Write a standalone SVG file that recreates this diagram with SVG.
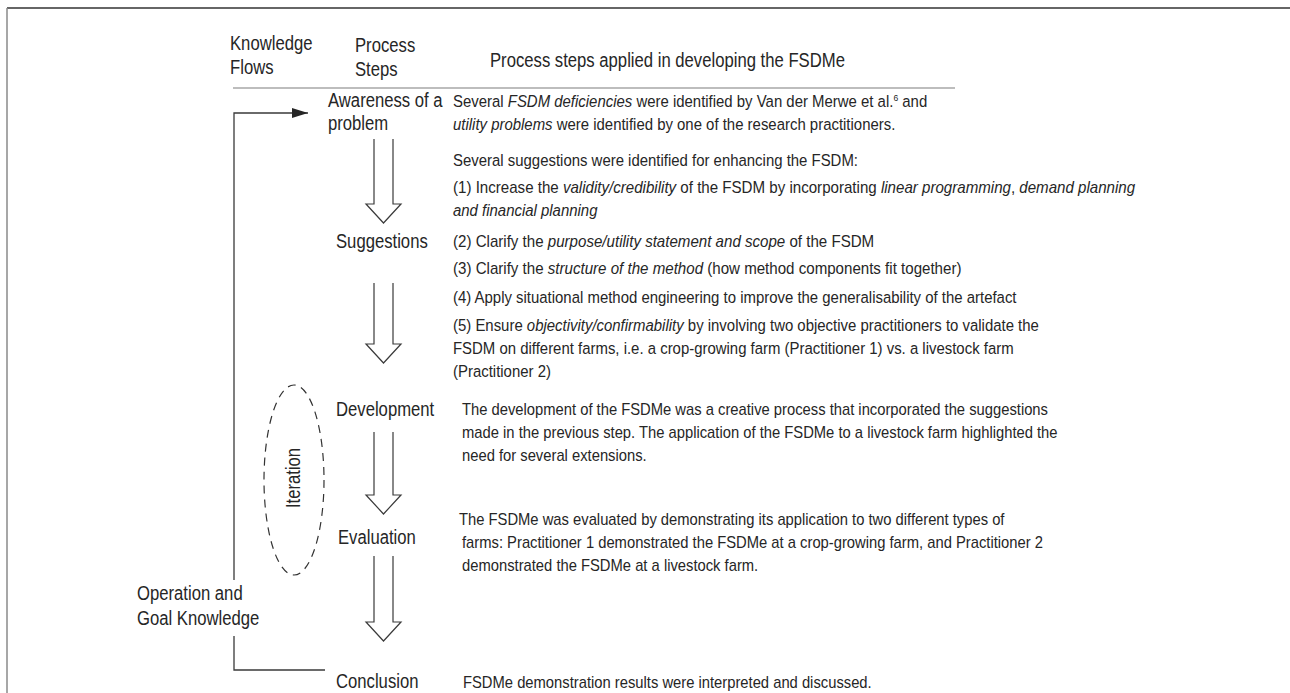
<svg xmlns="http://www.w3.org/2000/svg" width="1290" height="693" viewBox="0 0 1290 693">
<defs>
<style>
text{font-family:"Liberation Sans",Arial,sans-serif;fill:#262626}
.h{font-size:19.4px}
.b{font-size:16.6px}
.i{font-style:italic}
.sup{font-size:9.5px}
.blk{fill:#fff;stroke:#3a3a3a;stroke-width:1.2}
.ln{fill:none;stroke:#3a3a3a;stroke-width:1.3}
</style>
<marker id="ah" viewBox="0 0 16 10" refX="16" refY="5" markerWidth="16" markerHeight="10" markerUnits="userSpaceOnUse" orient="auto">
<path d="M0,0 L16,5 L0,10 Z" fill="#262626"/>
</marker>
</defs>
<rect width="1290" height="693" fill="#fff"/>
<g id="frame">
<line x1="7" y1="8" x2="1290" y2="8" stroke="#333" stroke-width="1.5"/>
<line x1="7" y1="8" x2="7" y2="693" stroke="#8a8a8a" stroke-width="1.5"/>
<line x1="233" y1="88" x2="955" y2="88" stroke="#bdbdbd" stroke-width="2"/>
</g>
<g id="header">
<text class="h" transform="translate(230,50) scale(0.86,1)">Knowledge</text>
<text class="h" transform="translate(230,74) scale(0.86,1)">Flows</text>
<text class="h" transform="translate(355,52) scale(0.86,1)">Process</text>
<text class="h" transform="translate(355,76) scale(0.86,1)">Steps</text>
<text class="h" transform="translate(490,67) scale(0.86,1)">Process steps applied in developing the FSDMe</text>
</g>
<g id="connectors">
<path class="ln" d="M234,580 V113 H308" marker-end="url(#ah)"/>
<path class="ln" d="M234,636 V670 H325"/>
<path class="blk" d="M374,139 V204 H366 L383.5,223 L401,204 H393 V139"/>
<path class="blk" d="M374,283 V344 H366 L383.5,363 L401,344 H393 V283"/>
<path class="blk" d="M374,432 V495 H366 L383.5,514 L401,495 H393 V432"/>
<path class="blk" d="M374,556 V622 H366 L383.5,641 L401,622 H393 V556"/>
</g>
<g id="iteration">
<ellipse cx="294" cy="480" rx="30" ry="95" fill="none" stroke="#333" stroke-width="1.2" stroke-dasharray="8,6"/>
<text class="h" text-anchor="middle" transform="translate(300,478) rotate(-90) scale(0.86,1)">Iteration</text>
</g>
<g id="operation-goal-knowledge">
<text class="h" transform="translate(137,600) scale(0.86,1)">Operation and</text>
<text class="h" transform="translate(137,625) scale(0.86,1)">Goal Knowledge</text>
</g>
<g id="step-awareness">
<text class="h" transform="translate(328,107) scale(0.86,1)">Awareness of a</text>
<text class="h" transform="translate(328,130) scale(0.86,1)">problem</text>
<text class="b" transform="translate(453,107) scale(0.9,1)">Several <tspan class="i">FSDM deficiencies</tspan> were identified by Van der Merwe et al.<tspan class="sup" dy="-6">6</tspan><tspan dy="6"> and</tspan></text>
<text class="b" transform="translate(453,130) scale(0.9,1)"><tspan class="i">utility problems</tspan> were identified by one of the research practitioners.</text>
</g>
<g id="step-suggestions">
<text class="h" transform="translate(336,248) scale(0.86,1)">Suggestions</text>
<text class="b" transform="translate(453,166) scale(0.9,1)">Several suggestions were identified for enhancing the FSDM:</text>
<text class="b" transform="translate(453,193) scale(0.91,1)">(1) Increase the <tspan class="i">validity/credibility</tspan> of the FSDM by incorporating <tspan class="i">linear programming</tspan>, <tspan class="i">demand planning</tspan></text>
<text class="b i" transform="translate(453,216) scale(0.9,1)">and financial planning</text>
<text class="b" transform="translate(453,247) scale(0.91,1)">(2) Clarify the <tspan class="i">purpose/utility statement and scope</tspan> of the FSDM</text>
<text class="b" transform="translate(453,274) scale(0.91,1)">(3) Clarify the <tspan class="i">structure of the method</tspan> (how method components fit together)</text>
<text class="b" transform="translate(453,303) scale(0.9,1)">(4) Apply situational method engineering to improve the generalisability of the artefact</text>
<text class="b" transform="translate(453,331) scale(0.9,1)">(5) Ensure <tspan class="i">objectivity/confirmability</tspan> by involving two objective practitioners to validate the</text>
<text class="b" transform="translate(453,354) scale(0.9,1)">FSDM on different farms, i.e. a crop-growing farm (Practitioner 1) vs. a livestock farm</text>
<text class="b" transform="translate(453,377) scale(0.9,1)">(Practitioner 2)</text>
</g>
<g id="step-development">
<text class="h" transform="translate(336,416) scale(0.86,1)">Development</text>
<text class="b" transform="translate(462,415) scale(0.89,1)">The development of the FSDMe was a creative process that incorporated the suggestions</text>
<text class="b" transform="translate(462,438) scale(0.89,1)">made in the previous step. The application of the FSDMe to a livestock farm highlighted the</text>
<text class="b" transform="translate(462,461) scale(0.89,1)">need for several extensions.</text>
</g>
<g id="step-evaluation">
<text class="h" transform="translate(338,544) scale(0.86,1)">Evaluation</text>
<text class="b" transform="translate(459,525) scale(0.89,1)">The FSDMe was evaluated by demonstrating its application to two different types of</text>
<text class="b" transform="translate(462,548) scale(0.89,1)">farms: Practitioner 1 demonstrated the FSDMe at a crop-growing farm, and Practitioner 2</text>
<text class="b" transform="translate(462,571) scale(0.89,1)">demonstrated the FSDMe at a livestock farm.</text>
</g>
<g id="step-conclusion">
<text class="h" transform="translate(336,688) scale(0.86,1)">Conclusion</text>
<text class="b" transform="translate(463,688) scale(0.89,1)">FSDMe demonstration results were interpreted and discussed.</text>
</g>
</svg>
